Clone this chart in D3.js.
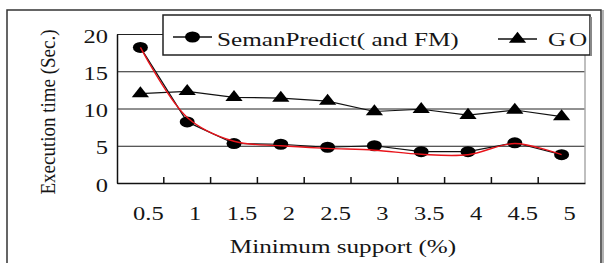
<!DOCTYPE html>
<html>
<head>
<meta charset="utf-8">
<script src="https://cdn.jsdelivr.net/npm/d3@7"></script>
<style>
  body { margin: 0; background: #fff; }
  svg { display: block; }
</style>
</head>
<body>
<div id="chart"></div>
<script>
// values
const supports = ['0.5', '1', '1.5', '2', '2.5', '3', '3.5', '4', '4.5', '5'];
const semanPredict = [18.2, 8.2, 5.3, 5.2, 4.8, 5.0, 4.2, 4.2, 5.4, 3.8];
const go = [12.0, 12.3, 11.5, 11.4, 11.0, 9.6, 9.9, 9.1, 9.8, 8.9];
// red hand-drawn trend over SemanPredict
const trend = [18.2, 8.8, 5.6, 5.0, 4.65, 4.4, 3.85, 3.8, 5.3, 3.8];
const yTicks = [0, 5, 10, 15, 20];

const W = 609, H = 263;
const pLeft = 117, pRight = 585, pTop = 34, pBottom = 183;
const sx = 1.36; // the scan is stretched sideways
const serif = 'Liberation Serif, DejaVu Serif, Times New Roman, serif';

const svg = d3.select('#chart').append('svg')
  .attr('width', W)
  .attr('height', H)
  .attr('font-family', serif);

// outer frame
svg.append('path')
   .attr('d', `M7,${H} V10 H601 V${H}`)
   .attr('fill', 'none')
   .attr('stroke', '#333')
   .attr('stroke-width', 1.5);
svg.append('line')
   .attr('x1', 603).attr('x2', 603).attr('y1', 10).attr('y2', H)
   .attr('stroke', '#999').attr('stroke-width', 1.5);

const x = d3.scaleBand()
            .domain(supports)
            .range([pLeft, pRight])
            .padding(0);
const cx = d => x(d) + x.bandwidth() / 2;

const y = d3.scaleLinear()
            .domain([0, 20])
            .range([pBottom, pTop]);

// grid
svg.append('g')
   .attr('transform', `translate(${pLeft},0)`)
   .call(d3.axisLeft(y).tickValues(yTicks).tickSize(-(pRight - pLeft)).tickFormat(''))
   .call(g => g.select('.domain').remove())
   .call(g => g.selectAll('line').attr('stroke', '#222').attr('stroke-width', 1));

// plot right edge
svg.append('line')
   .attr('x1', pRight).attr('x2', pRight).attr('y1', pTop).attr('y2', pBottom)
   .attr('stroke', '#aaa').attr('stroke-width', 1.5);

// y axis
const yAxis = svg.append('g')
   .attr('transform', `translate(${pLeft},0)`)
   .call(d3.axisLeft(y).tickValues(yTicks).tickSize(0).tickPadding(6.6))
   .attr('font-family', serif);
yAxis.select('.domain').attr('stroke', '#111').attr('stroke-width', 1.5);
yAxis.selectAll('text')
     .attr('font-size', 18)
     .attr('dy', '0.45em')
     .attr('transform', `scale(${sx},1)`)
     .attr('fill', '#151515');

// x axis
const xAxis = svg.append('g')
   .attr('transform', `translate(0,${pBottom})`)
   .call(d3.axisBottom(x).tickSize(0).tickPadding(0))
   .attr('font-family', serif);
xAxis.select('.domain').attr('stroke', '#111').attr('stroke-width', 1.5);
xAxis.selectAll('.tick text')
     .attr('y', 37)
     .attr('dy', 0)
     .attr('font-size', 18)
     .attr('transform', `translate(8,0) scale(${sx},1)`)
     .attr('fill', '#151515');

// inner ticks at band boundaries
svg.append('g')
   .selectAll('line')
   .data(supports.slice(1))
   .join('line')
   .attr('x1', d => x(d)).attr('x2', d => x(d))
   .attr('y1', pBottom).attr('y2', pBottom - 6)
   .attr('stroke', '#111').attr('stroke-width', 1.5);

// series lines
const line = d3.line()
               .x((d, i) => cx(supports[i]))
               .y(d => y(d));

svg.append('path')
   .datum(go)
   .attr('d', line)
   .attr('fill', 'none')
   .attr('stroke', '#111')
   .attr('stroke-width', 1.2);

svg.append('path')
   .datum(semanPredict)
   .attr('d', line)
   .attr('fill', 'none')
   .attr('stroke', '#111')
   .attr('stroke-width', 1.2);

const circleSym = d3.symbol(d3.symbolCircle, 95);
const triSym = d3.symbol(d3.symbolTriangle, 70);

svg.append('g')
   .selectAll('path')
   .data(go)
   .join('path')
   .attr('d', triSym)
   .attr('transform', (d, i) => `translate(${cx(supports[i])},${y(d)}) scale(${sx},1)`)
   .attr('fill', '#000');

svg.append('g')
   .selectAll('path')
   .data(semanPredict)
   .join('path')
   .attr('d', circleSym)
   .attr('transform', (d, i) => `translate(${cx(supports[i])},${y(d)}) scale(${sx},1)`)
   .attr('fill', '#000');

// red trend
svg.append('path')
   .datum(trend)
   .attr('d', line.curve(d3.curveCatmullRom.alpha(0.5)))
   .attr('fill', 'none')
   .attr('stroke', '#e8131a')
   .attr('stroke-width', 1.4);

// legend
const legend = svg.append('g');
legend.append('rect')
      .attr('x', 163).attr('y', 15)
      .attr('width', 427).attr('height', 40)
      .attr('fill', '#fff')
      .attr('stroke', '#222')
      .attr('stroke-width', 1.5);
legend.append('line')
      .attr('x1', 591).attr('x2', 591).attr('y1', 17).attr('y2', 56)
      .attr('stroke', '#888').attr('stroke-width', 2);

const items = [
  { name: 'SemanPredict( and FM)', sym: circleSym, x0: 173, ly: 37, tx: 217, ls: 0 },
  { name: 'GO', sym: triSym, x0: 498, ly: 39, tx: 548, ls: 2 }
];
items.forEach(it => {
  legend.append('line')
        .attr('x1', it.x0).attr('x2', it.x0 + 39)
        .attr('y1', it.ly).attr('y2', it.ly)
        .attr('stroke', '#111').attr('stroke-width', 1.5);
  legend.append('path')
        .attr('d', it.sym)
        .attr('transform', `translate(${it.x0 + 19.5},${it.ly}) scale(${sx},1)`)
        .attr('fill', '#000');
  legend.append('text')
        .attr('transform', `translate(${it.tx},46) scale(${sx},1)`)
        .attr('font-size', 18.5)
        .attr('letter-spacing', it.ls)
        .attr('fill', '#151515')
        .text(it.name);
});

// axis titles
svg.append('text')
   .attr('transform', `translate(343,253) scale(${sx},1)`)
   .attr('text-anchor', 'middle')
   .attr('font-size', 18.5)
   .attr('fill', '#151515')
   .text('Minimum support (%)');

svg.append('text')
   .attr('transform', `translate(47,112) scale(${sx * 0.85},1) rotate(-90)`)
   .attr('text-anchor', 'middle')
   .attr('dy', '0.35em')
   .attr('font-size', 19)
   .attr('fill', '#151515')
   .text('Execution time (Sec.)');
</script>
</body>
</html>
